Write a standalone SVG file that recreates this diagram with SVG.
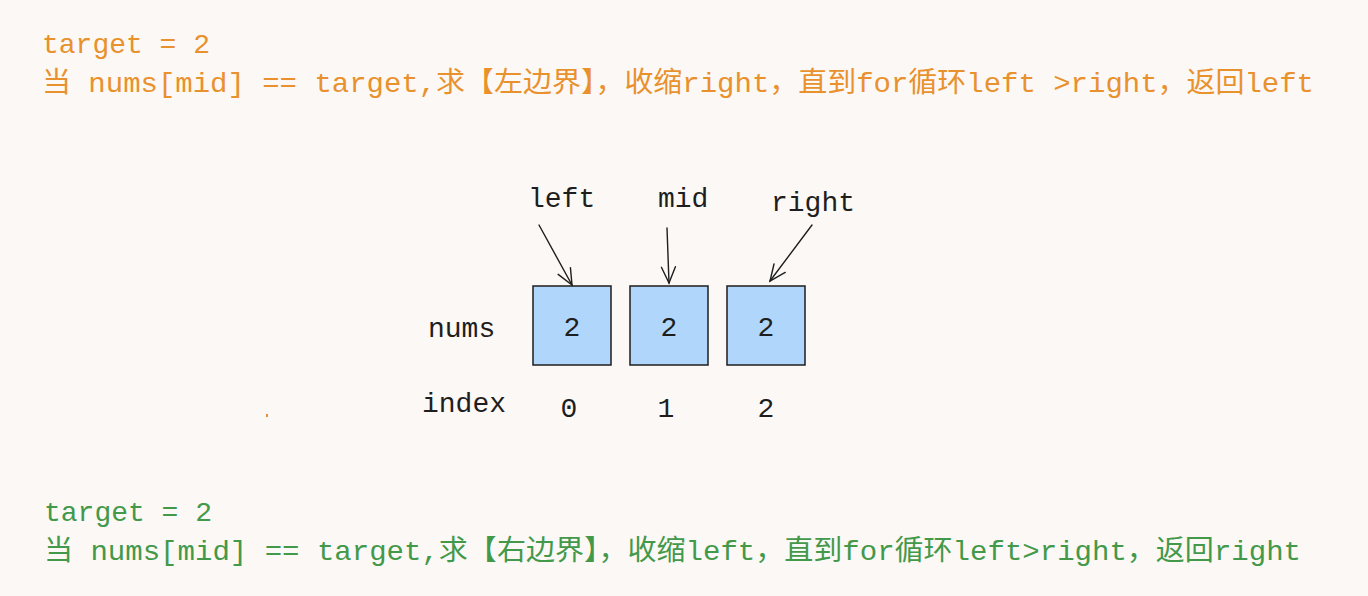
<svg xmlns="http://www.w3.org/2000/svg" width="1368" height="596" viewBox="0 0 1368 596">
<style>
.t{font-family:"Liberation Mono","Noto Sans CJK SC",monospace;font-size:28px}
.o{fill:#e8912d}
.g{fill:#43994a}
.k{fill:#1e1e1e}
.box{fill:#b0d6fb;stroke:#1e1e1e;stroke-width:1.5}
.c{stroke:#1e1e1e;stroke-width:1.4;fill:none;stroke-linecap:round}
</style>
<defs>
<marker id="ah" viewBox="0 0 20 20" refX="18" refY="10" markerWidth="20" markerHeight="20" markerUnits="userSpaceOnUse" orient="auto">
<path d="M2,3 L18,10 L2,17" fill="none" stroke="#1e1e1e" stroke-width="1.4" stroke-linecap="round"/>
</marker>
</defs>
<rect width="1368" height="596" fill="#fcf8f5"/>
<g id="top-note">
<text class="t o" x="42" y="53">target = 2</text>
<text class="t o" x="42" y="92" textLength="1272" lengthAdjust="spacingAndGlyphs">当 nums[mid] == target,求【左边界】，收缩right，直到for循环left &gt;right，返回left</text>
</g>
<g id="bottom-note">
<text class="t g" x="44" y="521">target = 2</text>
<text class="t g" x="44" y="560" textLength="1257" lengthAdjust="spacingAndGlyphs">当 nums[mid] == target,求【右边界】，收缩left，直到for循环left&gt;right，返回right</text>
</g>
<g id="row-labels">
<text class="t k" x="428" y="337">nums</text>
<text class="t k" x="422" y="412">index</text>
</g>
<g id="cell0">
<rect class="box" x="533" y="286" width="78" height="79"/>
<text class="t k" x="572" y="336" text-anchor="middle">2</text>
<text class="t k" x="569" y="417" text-anchor="middle">0</text>
</g>
<g id="cell1">
<rect class="box" x="630" y="286" width="78" height="79"/>
<text class="t k" x="669" y="336" text-anchor="middle">2</text>
<text class="t k" x="666" y="417" text-anchor="middle">1</text>
</g>
<g id="cell2">
<rect class="box" x="727" y="286" width="78" height="79"/>
<text class="t k" x="766" y="336" text-anchor="middle">2</text>
<text class="t k" x="766" y="417" text-anchor="middle">2</text>
</g>
<g id="ptr-left"><text class="t k" x="528" y="207">left</text></g>
<g id="ptr-mid"><text class="t k" x="658" y="207">mid</text></g>
<g id="ptr-right"><text class="t k" x="771" y="211">right</text></g>
<g id="connectors">
<line class="c" x1="539" y1="225" x2="572" y2="285" marker-end="url(#ah)"/>
<line class="c" x1="667" y1="228" x2="669" y2="283" marker-end="url(#ah)"/>
<line class="c" x1="812" y1="225" x2="770" y2="281" marker-end="url(#ah)"/>
</g>
<rect x="266" y="414" width="2" height="3" fill="#e8912d"/>
</svg>
